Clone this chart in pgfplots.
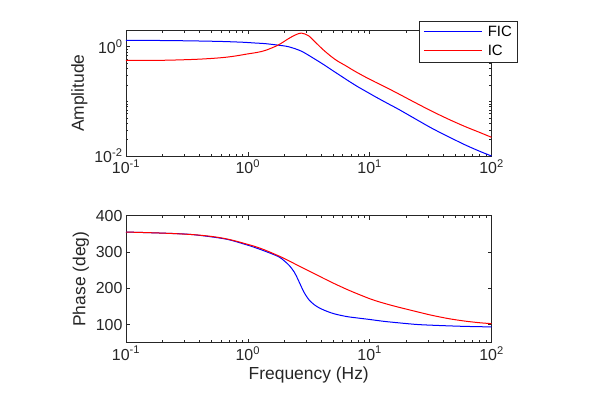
\documentclass[border=0pt]{standalone}
\usepackage{fontspec}
\setmainfont{Liberation Sans}
\usepackage{pgfplots}
\pgfplotsset{compat=1.18}
\definecolor{axgray}{RGB}{38,38,38}
\definecolor{mblue}{RGB}{0,0,255}
\definecolor{mred}{RGB}{255,0,0}
% legend line drawn inside the entry text
\newcommand{\legline}[1]{{\color{#1}\rule[0.33em]{58bp}{1bp}}\hspace{6bp}}

\begin{document}
\begin{tikzpicture}
\useasboundingbox (0bp,0bp) rectangle (598bp,-395bp);

% amplitude
\begin{axis}[
  scale only axis, width=365.5bp, height=125.7bp,
  at={(126bp,-30.3bp)}, anchor=north west,
  xmode=log, xmin=0.1, xmax=100,
  xtick={0.1,1,10,100},
  xticklabels={10\textsuperscript{-1},10\textsuperscript{0},10\textsuperscript{1},10\textsuperscript{2}},
  minor xtick={0.2,0.3,0.4,0.5,0.6,0.7,0.8,0.9,2,3,4,5,6,7,8,9,20,30,40,50,60,70,80,90},
  ymode=log, ymin=0.01, ymax=2,
  ytick={0.01,1},
  yticklabels={10\textsuperscript{-2},10\textsuperscript{0}},
  minor ytick={0.02,0.03,0.04,0.05,0.06,0.07,0.08,0.09,0.1,0.2,0.3,0.4,0.5,0.6,0.7,0.8,0.9,2},
  tick align=inside,
  axis line style={axgray, line width=0.6bp},
  major tick style={axgray, line width=0.6bp},
  minor tick style={axgray, line width=0.5bp},
  major tick length=4bp, minor tick length=2.5bp,
  tick label style={font=\fontsize{16}{16}\selectfont, text=axgray},
  label style={font=\fontsize{17.5}{17.5}\selectfont, text=axgray},
  ylabel={Amplitude},
  legend image code/.code={},
  legend style={at={(1.07,1.074)}, anchor=north east, draw=axgray,
    font=\fontsize{15}{15}\selectfont, row sep=3bp, inner xsep=3bp, inner ysep=3bp,
    column sep=0bp},
  legend cell align=left,
]
\addplot[mblue, line width=1bp, smooth] coordinates {
 (0.1,1.31) (0.2,1.30) (0.35,1.28) (0.6,1.25) (0.9,1.21) (1.15,1.17)
 (1.39,1.14) (1.77,1.07) (2.16,1.0) (2.75,0.83) (3.57,0.59) (4.2,0.47) (4.89,0.375)
 (5.7,0.3) (6.7,0.237) (8,0.185) (9.2,0.155) (11.1,0.122) (14,0.092) (17.2,0.072)
 (23,0.0497) (32.4,0.0322) (45,0.0222) (60.7,0.0160) (80,0.0122) (100,0.01)
};
\addlegendentry{\legline{mblue}FIC\hspace{3bp}}
\addplot[mred, line width=1bp, smooth] coordinates {
 (0.1,0.56) (0.2,0.565) (0.35,0.585) (0.5,0.61) (0.65,0.64) (0.8,0.68)
 (1.0,0.74) (1.2,0.79) (1.4,0.86) (1.77,1.07) (2.16,1.41) (2.45,1.64)
 (2.75,1.78) (3.15,1.59) (3.57,1.22) (4.18,0.87) (4.89,0.65) (5.5,0.54) (6.3,0.455)
 (7.5,0.36) (9.2,0.28) (11.1,0.226) (14,0.175) (17.2,0.138) (23,0.098) (32.4,0.066)
 (45,0.0465) (60.7,0.0346) (80,0.027) (100,0.022)
};
\addlegendentry{\legline{mred}IC}
\end{axis}

% phase
\begin{axis}[
  scale only axis, width=365.5bp, height=127bp,
  at={(126bp,-215.7bp)}, anchor=north west,
  xmode=log, xmin=0.1, xmax=100,
  xtick={0.1,1,10,100},
  xticklabels={10\textsuperscript{-1},10\textsuperscript{0},10\textsuperscript{1},10\textsuperscript{2}},
  minor xtick={0.2,0.3,0.4,0.5,0.6,0.7,0.8,0.9,2,3,4,5,6,7,8,9,20,30,40,50,60,70,80,90},
  ymin=50, ymax=400,
  ytick={100,200,300,400},
  yticklabels={100,200,300,400},
  tick align=inside,
  axis line style={axgray, line width=0.6bp},
  major tick style={axgray, line width=0.6bp},
  minor tick style={axgray, line width=0.5bp},
  major tick length=4bp, minor tick length=2.5bp,
  tick label style={font=\fontsize{16}{16}\selectfont, text=axgray},
  label style={font=\fontsize{17.5}{17.5}\selectfont, text=axgray},
  xlabel={Frequency (Hz)},
  ylabel={Phase (deg)},
]
\addplot[mblue, line width=1bp, smooth] coordinates {
 (0.1,355) (0.2,352) (0.35,348) (0.65,336) (0.95,321) (1.15,312) (1.39,302)
 (1.79,287) (2.0,275) (2.2,262) (2.4,245) (2.55,228) (2.7,210) (2.85,193)
 (3.0,180) (3.2,167) (3.5,155) (3.9,145) (4.5,136) (5.2,129) (6.5,122)
 (8,118) (10,114) (13,109) (17,105) (25,100) (40,97) (60,95) (100,93.5)
};
\addplot[mred, line width=1bp, smooth] coordinates {
 (0.1,355) (0.2,352) (0.35,348) (0.5,343) (0.65,337) (0.8,330) (0.95,323)
 (1.15,315) (1.39,305) (1.91,285) (2.61,262) (3.57,239) (4.9,216) (6.7,195)
 (9.2,176) (11.1,166) (14,156) (17.2,148) (24,136) (32.4,125.5) (45,116)
 (60.7,109.5) (80,105) (100,102.5)
};
\end{axis}
\end{tikzpicture}
\end{document}
